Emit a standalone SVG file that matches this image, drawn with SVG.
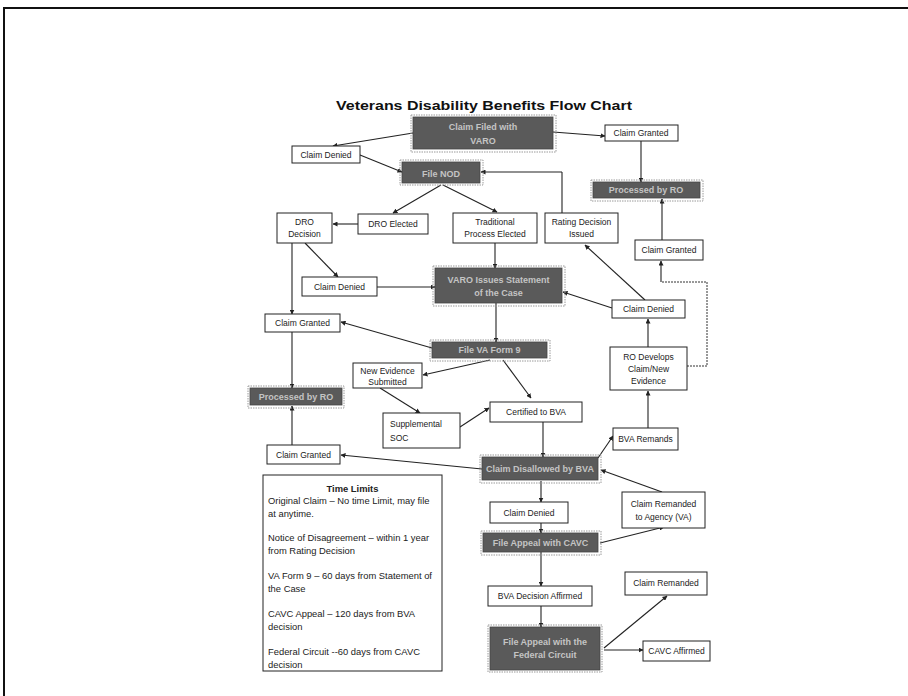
<svg xmlns="http://www.w3.org/2000/svg" width="908" height="696" viewBox="0 0 908 696">
<style>
.bg{fill:#ffffff}
.frame{stroke:#111;stroke-width:2;fill:none}
.box{fill:#ffffff;stroke:#222;stroke-width:1}
.dark{fill:#5a5a5a;stroke:#444;stroke-width:0.8}
.halo{fill:none;stroke:#9a9a9a;stroke-width:1;stroke-dasharray:1.5,1}
.t{font-family:"Liberation Sans",Arial,sans-serif;font-size:8.5px;fill:#222;text-anchor:middle}
.tl{font-family:"Liberation Sans",Arial,sans-serif;font-size:8.5px;fill:#222}
.tt{font-family:"Liberation Sans",Arial,sans-serif;font-size:9.4px;fill:#222}
.td{font-family:"Liberation Sans",Arial,sans-serif;font-size:9px;fill:#c4c4c4;text-anchor:middle;font-weight:bold}
.title{font-family:"Liberation Sans",Arial,sans-serif;font-size:12px;font-weight:bold;fill:#111;text-anchor:middle}
.c{stroke:#222;stroke-width:1.1;fill:none;marker-end:url(#ah)}
.cn{stroke:#222;stroke-width:1.1;fill:none}
.cd{stroke:#333;stroke-width:1;fill:none;stroke-dasharray:2,1}
</style>
<defs>
<marker id="ah" viewBox="0 0 10 10" refX="9" refY="5" markerWidth="5" markerHeight="5" orient="auto" markerUnits="userSpaceOnUse">
<path d="M0,0 L10,5 L0,10 z" fill="#222"/>
</marker>
</defs>
<rect class="bg" x="0" y="0" width="908" height="696"/>
<path class="frame" d="M4,696 V8 H908"/>
<text class="title" x="484" y="110" textLength="296" lengthAdjust="spacingAndGlyphs">Veterans Disability Benefits Flow Chart</text>

<g id="connectors">
<path class="c" d="M413,133 L333,146"/>
<path class="c" d="M553,132 L605,136"/>
<path class="c" d="M360,155 L402,172"/>
<path class="c" d="M641,141 V182"/>
<path class="cn" d="M562,213 V172"/>
<path class="c" d="M562,172 H481"/>
<path class="c" d="M441,185 L393,213"/>
<path class="c" d="M443,185 L497,212"/>
<path class="c" d="M358,224 H333"/>
<path class="c" d="M305,243 L338,277"/>
<path class="c" d="M292,243 V314"/>
<path class="c" d="M495,243 V268"/>
<path class="c" d="M377,287 H435"/>
<path class="c" d="M645,300 L585,245"/>
<path class="c" d="M612,308 L563,292"/>
<path class="c" d="M662,240 V199"/>
<path class="cd" d="M687,366 H707 V282 H661"/>
<path class="c" d="M661,282 V261"/>
<path class="c" d="M648,347 V319"/>
<path class="c" d="M496,303 V342"/>
<path class="c" d="M432,348 L341,322"/>
<path class="c" d="M490,360 L423,375"/>
<path class="c" d="M503,360 L531,398"/>
<path class="c" d="M292,332 V388"/>
<path class="c" d="M380,388 L420,413"/>
<path class="c" d="M460,427 L489,408"/>
<path class="c" d="M543,422 V457"/>
<path class="c" d="M598,458 L613,436"/>
<path class="c" d="M648,428 V391"/>
<path class="c" d="M482,469 L341,455"/>
<path class="c" d="M292,445 V406"/>
<path class="c" d="M541,481 V502"/>
<path class="c" d="M541,523 V533"/>
<path class="c" d="M662,492 L601,470"/>
<path class="c" d="M600,543 L664,527"/>
<path class="c" d="M541,552 V586"/>
<path class="c" d="M541,606 V627"/>
<path class="c" d="M604,648 L667,596"/>
<path class="c" d="M604,650 H643"/>
</g>

<g id="claim-filed"><rect class="halo" x="411" y="115" width="145" height="37"/><rect class="dark" x="413" y="117" width="140" height="32"/><text class="td" x="483" y="130" font-size="10">Claim Filed with</text><text class="td" x="483" y="144" font-size="10">VARO</text></g>
<g id="claim-granted-1"><rect class="box" x="605" y="125" width="73" height="16"/><text class="t" x="641" y="136">Claim Granted</text></g>
<g id="claim-denied-1"><rect class="box" x="292" y="146" width="68" height="17"/><text class="t" x="326" y="157.5">Claim Denied</text></g>
<g id="file-nod"><rect class="halo" x="400" y="160" width="83" height="25"/><rect class="dark" x="402" y="162" width="78" height="21"/><text class="td" x="441" y="176.5" font-size="11">File NOD</text></g>
<g id="processed-ro-1"><rect class="halo" x="591" y="180" width="112" height="21"/><rect class="dark" x="593" y="182" width="107" height="16"/><text class="td" x="646" y="193" font-size="8">Processed by RO</text></g>
<g id="dro-decision"><rect class="box" x="277" y="213" width="55" height="30"/><text class="t" x="304.5" y="225">DRO</text><text class="t" x="304.5" y="237">Decision</text></g>
<g id="dro-elected"><rect class="box" x="358" y="214" width="70" height="20"/><text class="t" x="393" y="227">DRO Elected</text></g>
<g id="traditional"><rect class="box" x="453" y="213" width="84" height="30"/><text class="t" x="495" y="225">Traditional</text><text class="t" x="495" y="237">Process Elected</text></g>
<g id="rating-decision"><rect class="box" x="545" y="213" width="73" height="30"/><text class="t" x="581.5" y="225">Rating Decision</text><text class="t" x="581.5" y="237">Issued</text></g>
<g id="claim-granted-2"><rect class="box" x="635" y="240" width="68" height="20"/><text class="t" x="669" y="253">Claim Granted</text></g>
<g id="claim-denied-2"><rect class="box" x="302" y="277" width="75" height="19"/><text class="t" x="339.5" y="289.5">Claim Denied</text></g>
<g id="varo-soc"><rect class="halo" x="433" y="266" width="132" height="40"/><rect class="dark" x="435" y="268" width="127" height="35"/><text class="td" x="498.5" y="283" font-size="8.5">VARO Issues Statement</text><text class="td" x="498.5" y="296" font-size="8.5">of the Case</text></g>
<g id="claim-denied-3"><rect class="box" x="612" y="300" width="73" height="18"/><text class="t" x="648.5" y="312">Claim  Denied</text></g>
<g id="form9"><rect class="halo" x="430" y="340" width="120" height="21"/><rect class="dark" x="432" y="342" width="115" height="16"/><text class="td" x="489.5" y="353" font-size="8.5">File VA Form 9</text></g>
<g id="claim-granted-3"><rect class="box" x="265" y="314" width="75" height="18"/><text class="t" x="302.5" y="326">Claim Granted</text></g>
<g id="ro-develops"><rect class="box" x="610" y="347" width="77" height="43"/><text class="t" x="648.5" y="360">RO Develops</text><text class="t" x="648.5" y="372">Claim/New</text><text class="t" x="648.5" y="384">Evidence</text></g>
<g id="new-evidence"><rect class="box" x="353" y="363" width="69" height="25"/><text class="t" x="387.5" y="373.5">New Evidence</text><text class="t" x="387.5" y="384.5">Submitted</text></g>
<g id="processed-ro-2"><rect class="halo" x="248" y="386" width="96" height="22"/><rect class="dark" x="250" y="388" width="92" height="17"/><text class="td" x="296" y="399.5" font-size="8">Processed by RO</text></g>
<g id="supplemental"><rect class="box" x="383" y="413" width="77" height="35"/><text class="tl" x="390" y="427">Supplemental</text><text class="tl" x="390" y="441">SOC</text></g>
<g id="certified"><rect class="box" x="490" y="402" width="92" height="20"/><text class="t" x="536" y="415">Certified to BVA</text></g>
<g id="bva-remands"><rect class="box" x="613" y="428" width="65" height="22"/><text class="t" x="645.5" y="442">BVA Remands</text></g>
<g id="claim-granted-4"><rect class="box" x="267" y="445" width="73" height="19"/><text class="t" x="303.5" y="457.5">Claim Granted</text></g>
<g id="disallowed"><rect class="halo" x="480" y="455" width="121" height="28"/><rect class="dark" x="482" y="457" width="116" height="23"/><text class="td" x="540" y="472" font-size="8.5">Claim Disallowed by BVA</text></g>
<g id="time-limits"><rect class="box" x="263" y="475" width="179" height="196"/>
<text class="tt" x="352.5" y="492" font-weight="bold" text-anchor="middle">Time Limits</text>
<text class="tt" x="268" y="504">Original Claim – No time Limit, may file</text>
<text class="tt" x="268" y="517">at anytime.</text>
<text class="tt" x="268" y="541">Notice of Disagreement – within 1 year</text>
<text class="tt" x="268" y="554">from Rating Decision</text>
<text class="tt" x="268" y="579">VA Form 9 – 60 days from Statement of</text>
<text class="tt" x="268" y="592">the Case</text>
<text class="tt" x="268" y="617">CAVC Appeal – 120 days from BVA</text>
<text class="tt" x="268" y="630">decision</text>
<text class="tt" x="268" y="655">Federal Circuit --60 days from CAVC</text>
<text class="tt" x="268" y="668">decision</text>
</g>
<g id="claim-denied-4"><rect class="box" x="490" y="502" width="78" height="21"/><text class="t" x="529" y="515.5">Claim Denied</text></g>
<g id="remanded-agency"><rect class="box" x="622" y="492" width="83" height="36"/><text class="t" x="663.5" y="507">Claim Remanded</text><text class="t" x="663.5" y="520">to Agency (VA)</text></g>
<g id="cavc"><rect class="halo" x="481" y="531" width="120" height="24"/><rect class="dark" x="483" y="533" width="115" height="19"/><text class="td" x="540.5" y="545.5" font-size="8.5">File Appeal with CAVC</text></g>
<g id="bva-affirmed"><rect class="box" x="488" y="586" width="104" height="20"/><text class="t" x="540" y="599">BVA Decision Affirmed</text></g>
<g id="claim-remanded"><rect class="box" x="625" y="572" width="82" height="23"/><text class="t" x="666" y="586">Claim Remanded</text></g>
<g id="federal"><rect class="halo" x="488" y="625" width="114" height="47"/><rect class="dark" x="490" y="627" width="110" height="43"/><text class="td" x="545" y="645" font-size="8.5">File Appeal with the</text><text class="td" x="545" y="658" font-size="8.5">Federal Circuit</text></g>
<g id="cavc-affirmed"><rect class="box" x="643" y="641" width="67" height="20"/><text class="t" x="676.5" y="654">CAVC Affirmed</text></g>
</svg>
